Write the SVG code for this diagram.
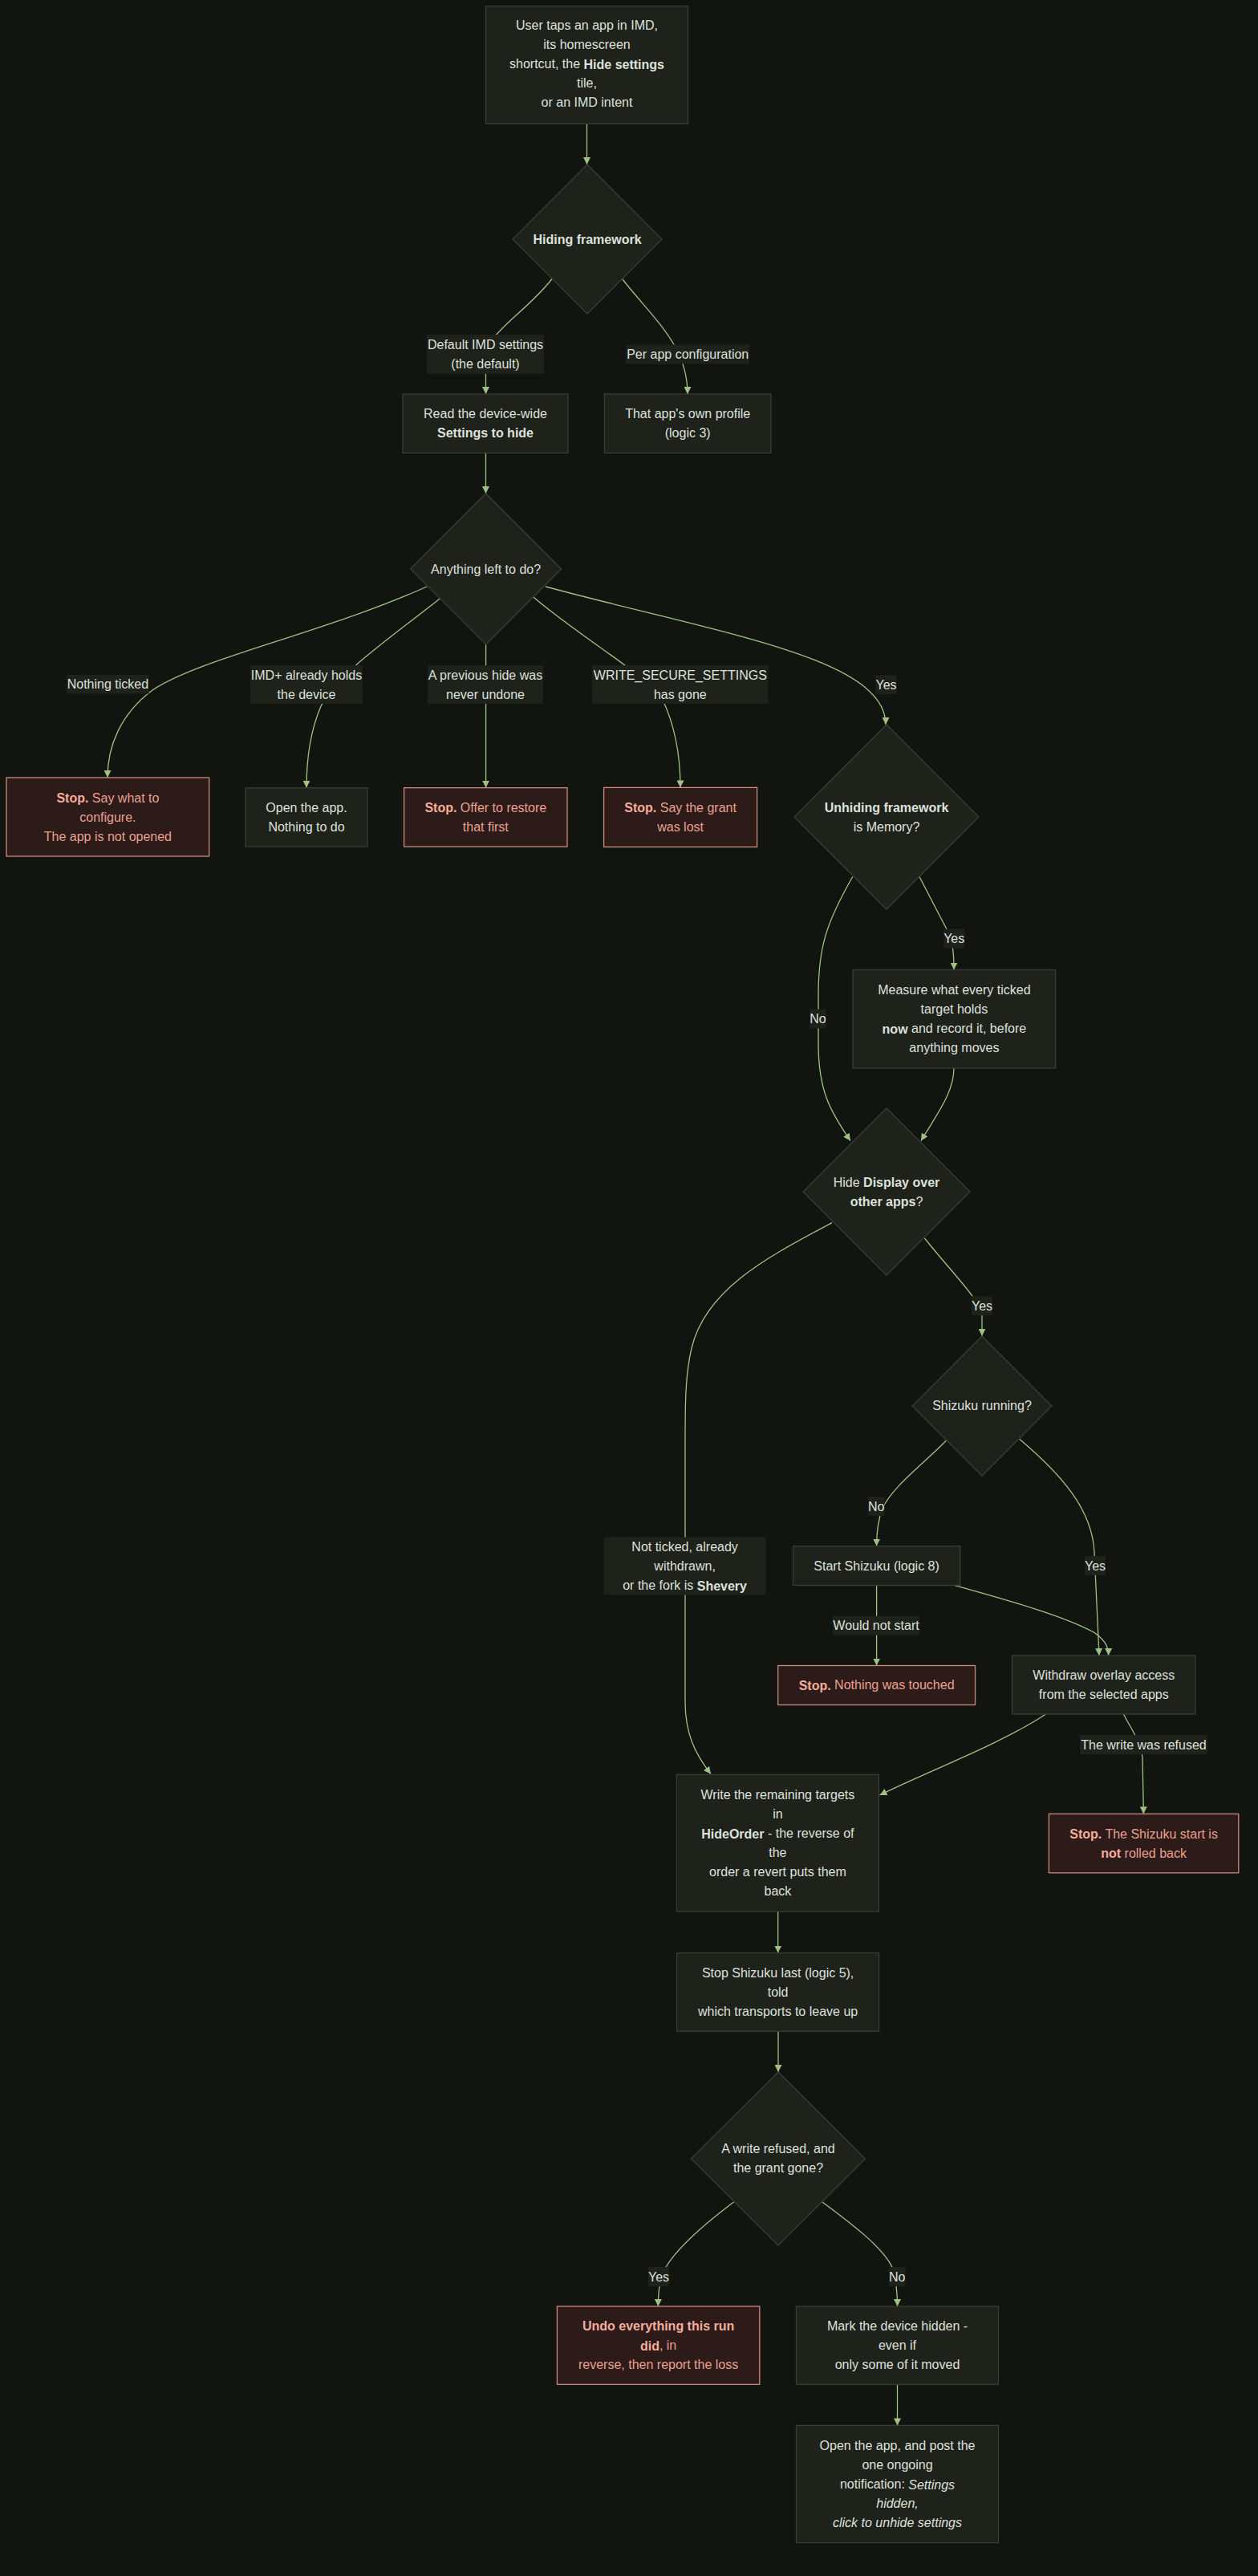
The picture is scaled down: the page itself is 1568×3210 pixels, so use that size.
<svg xmlns="http://www.w3.org/2000/svg" width="1568" height="3210" viewBox="0 0 1568 3210">
<defs>
<marker id="arr" viewBox="0 0 10 10" refX="10" refY="5" markerWidth="9" markerHeight="9" markerUnits="userSpaceOnUse" orient="auto">
<path d="M0,0 L10,5 L0,10 z" fill="#a0c184"/>
</marker>
<style>
text{font-family:"Liberation Sans",Arial,sans-serif;font-size:16px;fill:#dde2dc;text-anchor:middle;dominant-baseline:central}
.node rect,.node polygon{fill:#1f211b;stroke:#3a3d35;stroke-width:1.3}
.stop rect{fill:#2c1b19;stroke:#c98a80;stroke-width:1.3}
.stop text{fill:#eba08f}
.b{font-weight:bold}
.stop .b{fill:#f6ad9c}
.i{font-style:italic}
.edge{fill:none;stroke:#a0c184;stroke-width:1.3;marker-end:url(#arr)}
.lbl rect{fill:#1f211b}
</style>
</defs>
<rect x="0" y="0" width="1568" height="3210" fill="#12150f"/>

<g id="connectors">
<path class="edge" d="M731.5,154 L731.5,205"/>
<path class="edge" d="M688,347.5 C655,390 606,415 605.5,445 L605.5,491"/>
<path class="edge" d="M775.5,347.5 C815,398 857,430 857,491"/>
<path class="edge" d="M605.5,564.5 L605.5,615"/>
<path class="edge" d="M532,731 C400,790 250,820 190,860 C150,890 134,930 134,969"/>
<path class="edge" d="M548.5,745.7 C480,800 420,840 400,880 C385,915 382,950 382,981.7"/>
<path class="edge" d="M605.6,803 L605.6,981.7"/>
<path class="edge" d="M664.8,744 C725,795 790,830 825,870 C842,905 848,945 848,981.4"/>
<path class="edge" d="M680,731 C900,790 1104,820 1104,903"/>
<path class="edge" d="M1062.7,1092.5 C1030,1150 1020,1180 1020,1240 L1020,1300 C1020,1360 1035,1385 1060,1421.6"/>
<path class="edge" d="M1146,1092.5 L1180,1158 C1186,1170 1189,1180 1189,1208.5"/>
<path class="edge" d="M1189,1331 C1189,1360 1170,1385 1148,1421.6"/>
<path class="edge" d="M1152.4,1543 C1190,1590 1222,1620 1224,1640 L1224,1664.8"/>
<path class="edge" d="M1037,1523.6 C960,1565 880,1605 862,1680 C855,1710 854,1740 854,1790 L854,2120 C854,2160 866,2185 886,2210.6"/>
<path class="edge" d="M1179.5,1795 C1150,1825 1110,1855 1100,1880 C1094,1895 1092.6,1910 1092.6,1926.6"/>
<path class="edge" d="M1271,1793.5 C1320,1835 1362,1880 1364,1935 L1370,2063"/>
<path class="edge" d="M1190,1975.6 C1260,1995 1330,2015 1365,2035 C1378,2045 1381.6,2052 1381.6,2063"/>
<path class="edge" d="M1092.6,1975.6 L1092.6,2075.5"/>
<path class="edge" d="M1303.5,2136 C1250,2172 1150,2210 1096.5,2237"/>
<path class="edge" d="M1400.4,2136 C1410,2155 1422,2170 1424,2190 L1425.4,2260.3"/>
<path class="edge" d="M969.7,2382 L969.7,2433.6"/>
<path class="edge" d="M970,2531.2 L970,2582"/>
<path class="edge" d="M914.5,2744 C880,2770 845,2800 830,2825 C822,2840 820.4,2855 820.4,2874"/>
<path class="edge" d="M1025,2744 C1060,2770 1100,2800 1112,2825 C1117,2840 1118.5,2855 1118.5,2874"/>
<path class="edge" d="M1118.5,2971.3 L1118.5,3022.4"/>
</g>

<g id="edge-labels" class="lbl">
<rect x="532" y="417" width="146" height="48.8"/>
<text x="605" y="429">Default IMD settings</text>
<text x="605" y="453">(the default)</text>
<rect x="780.4" y="429.4" width="153.6" height="24"/>
<text x="857.2" y="441.4">Per app configuration</text>
<rect x="83" y="841" width="102.7" height="23.5"/>
<text x="134.4" y="852.7">Nothing ticked</text>
<rect x="312" y="829" width="140" height="48"/>
<text x="382" y="841">IMD+ already holds</text>
<text x="382" y="865">the device</text>
<rect x="533" y="829" width="144" height="48"/>
<text x="605" y="841">A previous hide was</text>
<text x="605" y="865">never undone</text>
<rect x="738" y="829" width="219.5" height="48"/>
<text x="847.8" y="841">WRITE_SECURE_SETTINGS</text>
<text x="847.8" y="865">has gone</text>
<rect x="1091.5" y="841.5" width="26" height="23.5"/>
<text x="1104.5" y="853.2">Yes</text>
<rect x="1176.2" y="1157.6" width="26" height="24"/>
<text x="1189.2" y="1169.6">Yes</text>
<rect x="1009.5" y="1257.5" width="20" height="24"/>
<text x="1019.5" y="1269.5">No</text>
<rect x="1211" y="1615.2" width="26" height="24"/>
<text x="1224" y="1627.2">Yes</text>
<rect x="1082" y="1865" width="20.5" height="24"/>
<text x="1092.2" y="1877">No</text>
<rect x="1352" y="1939" width="26" height="24"/>
<text x="1365" y="1951">Yes</text>
<rect x="752.6" y="1915.5" width="202" height="72"/>
<text x="853.6" y="1927.5">Not ticked, already</text>
<text x="853.6" y="1951.5">withdrawn,</text>
<text x="853.6" y="1975.5">or the fork is <tspan class="b">Shevery</tspan></text>
<rect x="1038" y="2013.7" width="108" height="24"/>
<text x="1092" y="2025.7">Would not start</text>
<rect x="1346" y="2162" width="159" height="24"/>
<text x="1425.5" y="2174">The write was refused</text>
<rect x="808" y="2825" width="26" height="24"/>
<text x="821" y="2837">Yes</text>
<rect x="1108" y="2825" width="20.5" height="24"/>
<text x="1118.2" y="2837">No</text>
</g>

<g id="n-start" class="node">
<rect x="605.5" y="7.7" width="252" height="146.5"/>
<text x="731.5" y="31.9">User taps an app in IMD,</text>
<text x="731.5" y="55.9">its homescreen</text>
<text x="731.5" y="79.9">shortcut, the <tspan class="b">Hide settings</tspan></text>
<text x="731.5" y="103.9">tile,</text>
<text x="731.5" y="127.9">or an IMD intent</text>
</g>

<g id="n-framework" class="node">
<polygon points="732,205 825,298 732,391 639,298"/>
<text x="732" y="298" class="b">Hiding framework</text>
</g>

<g id="n-read" class="node">
<rect x="502" y="491" width="206" height="73.5"/>
<text x="605" y="515.8">Read the device-wide</text>
<text x="605" y="539.8" class="b">Settings to hide</text>
</g>

<g id="n-profile" class="node">
<rect x="753.5" y="491" width="207.5" height="73.5"/>
<text x="857.2" y="515.8">That app's own profile</text>
<text x="857.2" y="539.8">(logic 3)</text>
</g>

<g id="n-left" class="node">
<polygon points="605.6,615 699.6,709 605.6,803 511.6,709"/>
<text x="605.6" y="709">Anything left to do?</text>
</g>

<g id="n-stop-configure" class="node stop">
<rect x="8" y="969" width="252.7" height="98"/>
<text x="134.4" y="994"><tspan class="b">Stop.</tspan> Say what to</text>
<text x="134.4" y="1018">configure.</text>
<text x="134.4" y="1042">The app is not opened</text>
</g>

<g id="n-open-nothing" class="node">
<rect x="306" y="981.7" width="152" height="73.3"/>
<text x="382" y="1006.3">Open the app.</text>
<text x="382" y="1030.3">Nothing to do</text>
</g>

<g id="n-stop-restore" class="node stop">
<rect x="503.6" y="981.7" width="203.4" height="73.3"/>
<text x="605.3" y="1006.3"><tspan class="b">Stop.</tspan> Offer to restore</text>
<text x="605.3" y="1030.3">that first</text>
</g>

<g id="n-stop-grant" class="node stop">
<rect x="752.6" y="981.4" width="191" height="74"/>
<text x="848.1" y="1006.4"><tspan class="b">Stop.</tspan> Say the grant</text>
<text x="848.1" y="1030.4">was lost</text>
</g>

<g id="n-unhiding" class="node">
<polygon points="1105,903 1220,1018 1105,1133 990,1018"/>
<text x="1105" y="1006" class="b">Unhiding framework</text>
<text x="1105" y="1030">is Memory?</text>
</g>

<g id="n-measure" class="node">
<rect x="1063" y="1208.5" width="252.7" height="122.5"/>
<text x="1189.4" y="1233.8">Measure what every ticked</text>
<text x="1189.4" y="1257.8">target holds</text>
<text x="1189.4" y="1281.8"><tspan class="b">now</tspan> and record it, before</text>
<text x="1189.4" y="1305.8">anything moves</text>
</g>

<g id="n-overlay" class="node">
<polygon points="1105,1381 1209,1485 1105,1589 1001,1485"/>
<text x="1105" y="1473">Hide <tspan class="b">Display over</tspan></text>
<text x="1105" y="1497"><tspan class="b">other apps</tspan>?</text>
</g>

<g id="n-shizuku" class="node">
<polygon points="1224,1665 1311,1752 1224,1839 1137,1752"/>
<text x="1224" y="1751">Shizuku running?</text>
</g>

<g id="n-start-shizuku" class="node">
<rect x="988.5" y="1926.6" width="208.2" height="49"/>
<text x="1092.6" y="1951">Start Shizuku (logic 8)</text>
</g>

<g id="n-stop-untouched" class="node stop">
<rect x="969.7" y="2075.5" width="245.8" height="49"/>
<text x="1092.6" y="2099.5"><tspan class="b">Stop.</tspan> Nothing was touched</text>
</g>

<g id="n-withdraw" class="node">
<rect x="1261.5" y="2063" width="228.5" height="73"/>
<text x="1375.8" y="2087.5">Withdraw overlay access</text>
<text x="1375.8" y="2111.5">from the selected apps</text>
</g>

<g id="n-stop-rollback" class="node stop">
<rect x="1307.4" y="2260.3" width="236.4" height="73.5"/>
<text x="1425.6" y="2285"><tspan class="b">Stop.</tspan> The Shizuku start is</text>
<text x="1425.6" y="2309"><tspan class="b">not</tspan> rolled back</text>
</g>

<g id="n-write" class="node">
<rect x="843.4" y="2211.3" width="252" height="170.7"/>
<text x="969.4" y="2236.6">Write the remaining targets</text>
<text x="969.4" y="2260.6">in</text>
<text x="969.4" y="2284.6"><tspan class="b">HideOrder</tspan> - the reverse of</text>
<text x="969.4" y="2308.6">the</text>
<text x="969.4" y="2332.6">order a revert puts them</text>
<text x="969.4" y="2356.6">back</text>
</g>

<g id="n-stop-last" class="node">
<rect x="843.6" y="2433.6" width="252" height="97.6"/>
<text x="969.6" y="2458.4">Stop Shizuku last (logic 5),</text>
<text x="969.6" y="2482.4">told</text>
<text x="969.6" y="2506.4">which transports to leave up</text>
</g>

<g id="n-refused" class="node">
<polygon points="970,2582 1078.5,2690 970,2798 861.5,2690"/>
<text x="970" y="2677.5">A write refused, and</text>
<text x="970" y="2701.5">the grant gone?</text>
</g>

<g id="n-undo" class="node stop">
<rect x="694.4" y="2874" width="252.4" height="97.3"/>
<text x="820.6" y="2898.6" class="b">Undo everything this run</text>
<text x="820.6" y="2922.6"><tspan class="b">did</tspan>, in</text>
<text x="820.6" y="2946.6">reverse, then report the loss</text>
</g>

<g id="n-mark" class="node">
<rect x="992.5" y="2874" width="252" height="97.3"/>
<text x="1118.5" y="2898.6">Mark the device hidden -</text>
<text x="1118.5" y="2922.6">even if</text>
<text x="1118.5" y="2946.6">only some of it moved</text>
</g>

<g id="n-open-notify" class="node">
<rect x="992.5" y="3022.4" width="252" height="146.2"/>
<text x="1118.5" y="3047.5">Open the app, and post the</text>
<text x="1118.5" y="3071.5">one ongoing</text>
<text x="1118.5" y="3095.5">notification: <tspan class="i">Settings</tspan></text>
<text x="1118.5" y="3119.5" class="i">hidden,</text>
<text x="1118.5" y="3143.5" class="i">click to unhide settings</text>
</g>
</svg>
